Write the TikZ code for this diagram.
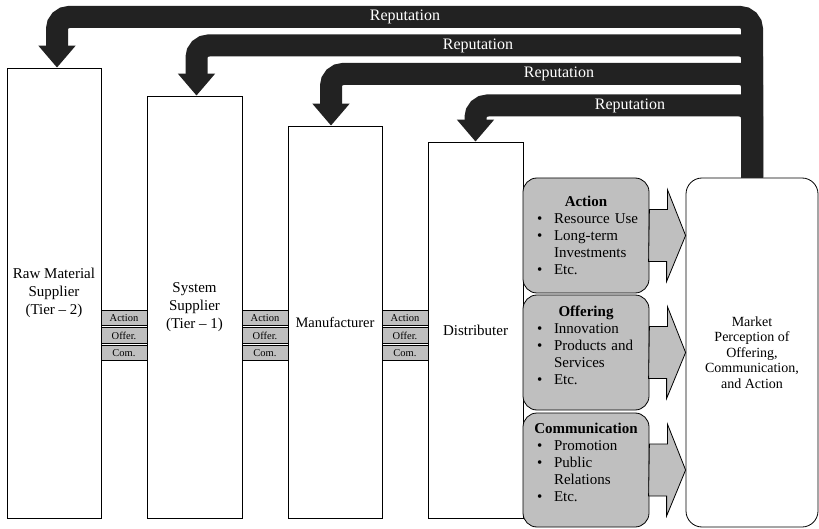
\documentclass[tikz,border=0pt]{standalone}
\usepackage{fontspec}
\setmainfont{Liberation Serif}
\usetikzlibrary{arrows.meta,positioning}
\definecolor{repblack}{HTML}{222222}
\definecolor{boxgray}{HTML}{BFBFBF}
\newcommand{\bul}{\makebox[27pt][l]{\hspace{10pt}\textbullet}}
\newcommand{\cont}{\hspace*{27pt}}
\newcommand{\ttl}[1]{\makebox[118pt][c]{\textbf{#1}}}
\begin{document}
\begin{tikzpicture}[x=1pt,y=-1pt,
  tier/.style={draw,line width=0.8pt,fill=white,align=center,inner sep=2pt,font=\fontsize{15}{18}\selectfont},
  tag/.style={draw,line width=0.6pt,fill=boxgray,minimum width=46pt,minimum height=15.5pt,inner sep=0pt,font=\fontsize{10.5}{12}\selectfont},
  group/.style={draw,line width=0.8pt,fill=boxgray,rounded corners=14pt,minimum width=126pt},
  items/.style={text width=118pt,align=left,inner sep=0pt,font=\fontsize{15}{17}\selectfont},
  garrow/.style={draw,line width=0.8pt,fill=boxgray},
  rep/.style={line width=22pt,color=repblack,rounded corners=12pt,-{Triangle[length=22pt,width=36pt]}},
  reptext/.style={text=white,font=\fontsize{16}{18}\selectfont}]
\useasboundingbox (0,0) rectangle (819,529);
% supply chain
\node[tier,minimum width=94pt,minimum height=450pt] (raw) at (54,293) {Raw Material\\Supplier\\(Tier -- 2)};
\node[tier,minimum width=95pt,minimum height=422pt] (sys) at (194.5,307) {System\\Supplier\\(Tier -- 1)};
\node[tier,font=\fontsize{14.5}{18}\selectfont,minimum width=94pt,minimum height=392pt] (man) at (335,322) {Manufacturer};
\node[tier,minimum width=95pt,minimum height=376pt] (dis) at (475.5,330) {Distributer};
\node[tier,font=\fontsize{14}{15.5}\selectfont,rounded corners=16pt,minimum width=132pt,minimum height=349pt] (mkt) at (752,352.5)
  {Market\\Perception of\\Offering,\\Communication,\\and Action};
\foreach \n/\x in {a/124,b/265,c/405}{
  \node[tag] (tagact\n) at (\x,318) {Action};
  \node[tag] (tagoff\n) at (\x,335.5) {Offer.};
  \node[tag] (tagcom\n) at (\x,353) {Com.};
}
% what the market sees
\node[group,minimum height=115pt] (act) at (586,235.5) {};
\node[group,minimum height=115pt] (off) at (586,352.5) {};
\node[group,minimum height=114pt] (com) at (586,470) {};
\node[items,below=18pt of act.north] (actlist) {\ttl{Action}\\\bul Resource Use\\\bul Long-term\\\cont Investments\\\bul Etc.};
\node[items,below=11pt of off.north] (offlist) {\ttl{Offering}\\\bul Innovation\\\bul Products and\\\cont Services\\\bul Etc.};
\node[items,below=10pt of com.north] (comlist) {\ttl{Communication}\\\bul Promotion\\\bul Public\\\cont Relations\\\bul Etc.};
\foreach \g in {act,off,com}{
  \draw[garrow] (\g.east) ++(0,-26) -- ++(18,0) -- ++(0,-20) -- (\g.east -| mkt.west)
    -- ++(-19,46) -- ++(0,-20) -- ++(-18,0) -- cycle;
}
% reputation feedback
\draw[rep] (mkt.north) |- ([xshift=3pt]raw.north |- 0,17) -- ([xshift=3pt]raw.north);
\draw[rep] (mkt.north) |- ([xshift=2pt]sys.north |- 0,45.5) -- ([xshift=2pt]sys.north);
\draw[rep] (mkt.north) |- ([xshift=-4pt]man.north |- 0,74) -- ([xshift=-4pt]man.north);
\draw[rep] (mkt.north) |- (dis.north |- 0,105.5) -- (dis.north);
\node[reptext] (rep1) at (405,17) {Reputation};
\node[reptext] (rep2) at (478,45.5) {Reputation};
\node[reptext] (rep3) at (559,74) {Reputation};
\node[reptext] (rep4) at (630,105.5) {Reputation};
\end{tikzpicture}
\end{document}
